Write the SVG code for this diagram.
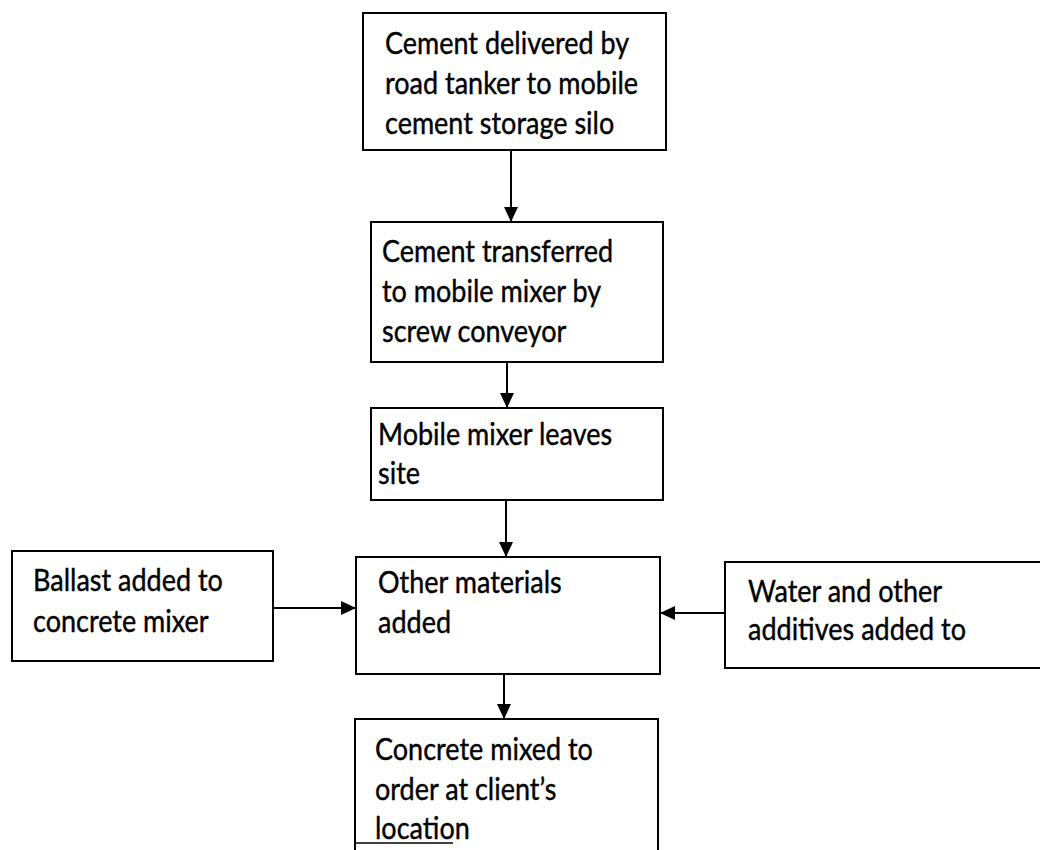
<svg xmlns="http://www.w3.org/2000/svg" width="1040" height="850" viewBox="0 0 1040 850">
<style>
.box{fill:#fff;stroke:#000;stroke-width:2}
.t{font-family:Lato,"Open Sans","Liberation Sans",sans-serif;font-size:27px;fill:#000;stroke:#000;stroke-width:0.35}
.c{stroke:#000;stroke-width:2;fill:none;marker-end:url(#ah)}
</style>
<defs>
<marker id="ah" markerUnits="userSpaceOnUse" markerWidth="16" markerHeight="16" refX="15" refY="7" orient="auto">
<path d="M0,0 L15,7 L0,14 Z" fill="#000"/>
</marker>
</defs>
<rect width="1040" height="850" fill="#fff"/>
<g id="connectors">
<line class="c" x1="511" y1="150" x2="511" y2="222"/>
<line class="c" x1="507" y1="362" x2="507" y2="408"/>
<line class="c" x1="506" y1="500" x2="506" y2="557"/>
<line class="c" x1="504" y1="674" x2="504" y2="719"/>
<line class="c" x1="273" y1="608" x2="356" y2="608"/>
<line class="c" x1="725" y1="613" x2="660" y2="613"/>
</g>
<g id="n1">
<rect class="box" x="363" y="13" width="303" height="137"/>
<text class="t" transform="matrix(1 0 0 1.17 385 54)">Cement delivered by</text>
<text class="t" transform="matrix(1 0 0 1.17 385 94)">road tanker to mobile</text>
<text class="t" transform="matrix(1 0 0 1.17 385 134)">cement storage silo</text>
</g>
<g id="n2">
<rect class="box" x="371" y="222" width="292" height="140"/>
<text class="t" transform="matrix(1 0 0 1.17 382 262)">Cement transferred</text>
<text class="t" transform="matrix(1 0 0 1.17 382 302)">to mobile mixer by</text>
<text class="t" transform="matrix(1 0 0 1.17 382 342)">screw conveyor</text>
</g>
<g id="n3">
<rect class="box" x="371" y="408" width="292" height="92"/>
<text class="t" transform="matrix(1 0 0 1.17 378 445)">Mobile mixer leaves</text>
<text class="t" transform="matrix(1 0 0 1.17 378 484)">site</text>
</g>
<g id="n4">
<rect class="box" x="356" y="557" width="304" height="117"/>
<text class="t" transform="matrix(1 0 0 1.17 378 593)">Other materials</text>
<text class="t" transform="matrix(1 0 0 1.17 378 633)">added</text>
</g>
<g id="n5">
<rect class="box" x="12" y="551" width="261" height="110"/>
<text class="t" transform="matrix(1 0 0 1.17 33 591)">Ballast added to</text>
<text class="t" transform="matrix(1 0 0 1.17 33 632)">concrete mixer</text>
</g>
<g id="n6">
<rect class="box" x="725" y="562" width="330" height="106"/>
<text class="t" transform="matrix(1 0 0 1.17 748 602)">Water and other</text>
<text class="t" transform="matrix(1 0 0 1.17 748 640)">additives added to</text>
</g>
<g id="n7">
<rect class="box" x="355" y="719" width="303" height="160"/>
<text class="t" transform="matrix(1 0 0 1.17 375 760)">Concrete mixed to</text>
<text class="t" transform="matrix(1 0 0 1.17 375 800)">order at client’s</text>
<text class="t" transform="matrix(1 0 0 1.17 375 839)">location</text>
<line x1="355" y1="843" x2="453" y2="843" stroke="#000" stroke-width="1.5"/>
</g>
</svg>
